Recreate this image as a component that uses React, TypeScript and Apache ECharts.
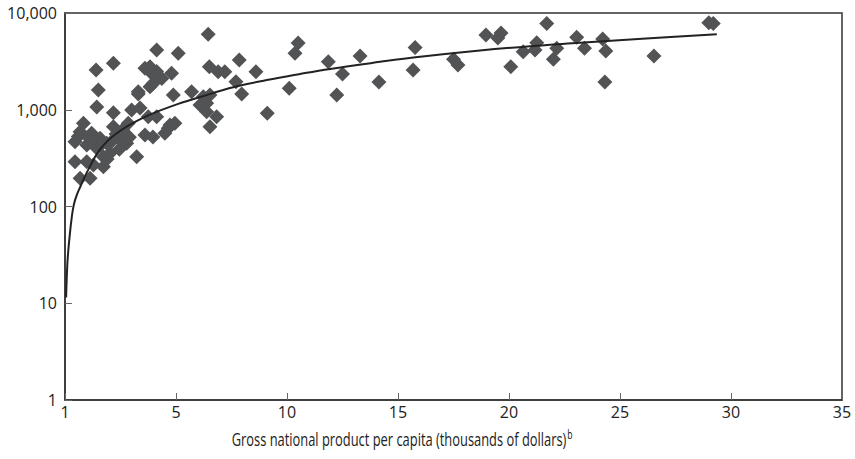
import React, { useEffect, useRef } from "react";
import * as echarts from "echarts";

// Scatter points: [GNP per capita (thousands of dollars, axis units), value]
const lowIncomePoints: number[][] = [
  [0.83, 725], [0.68, 593], [0.45, 467], [0.98, 432], [1.2, 571], [1.58, 507],
  [1.88, 450], [1.43, 399], [2.48, 487], [2.78, 450], [2.03, 355], [1.73, 327],
  [0.45, 290], [0.98, 290], [1.28, 268], [1.73, 258], [3.23, 327], [0.68, 196],
  [1.13, 196], [2.18, 668], [2.85, 725], [3.0, 994], [3.38, 1040], [3.75, 848],
  [3.6, 548], [3.96, 523], [1.43, 1070], [2.18, 932], [3.3, 1455], [1.5, 1600],
  [1.4, 2575], [2.18, 3020], [0.6, 530], [1.05, 520], [1.35, 455], [2.3, 560],
  [2.6, 620], [1.6, 430], [2.1, 470], [1.9, 310], [2.45, 390], [2.9, 520],
];

const middleIncomePoints: number[][] = [
  [4.13, 4150], [5.1, 3830], [6.45, 6030], [3.6, 2680], [3.9, 2390], [3.83, 2780],
  [4.13, 2490], [4.36, 2110], [4.8, 2390], [3.98, 1877], [3.83, 1730], [3.3, 1537],
  [4.88, 1420], [5.7, 1537], [6.5, 2790], [6.9, 2470], [7.2, 2470], [7.85, 3270],
  [7.7, 1950], [6.23, 1365], [6.53, 1420], [6.38, 1166], [6.08, 1120], [6.38, 955],
  [6.83, 848], [6.53, 668], [4.13, 848], [4.95, 725], [4.65, 643], [4.5, 571],
  [4.73, 695], [7.96, 1455], [8.6, 2470], [10.1, 1667], [9.11, 920], [10.5, 4900],
  [10.36, 3830], [11.86, 3140], [12.5, 2340], [12.24, 1420], [13.29, 3590], [14.14, 1940],
];

const highIncomePoints: number[][] = [
  [15.77, 4400], [15.68, 2575], [17.5, 3320], [17.7, 2900], [18.96, 5930],
  [19.5, 5500], [19.64, 6210], [20.08, 2790], [20.64, 3980], [21.17, 4150],
  [21.25, 4930], [21.7, 7800], [22.0, 3320], [22.15, 4310], [23.05, 5610],
  [23.4, 4310], [24.22, 5380], [24.36, 4050], [24.32, 1940], [26.53, 3590],
  [29.0, 7940], [29.2, 7800],
];

// Fitted curve
const trendX: number[] = [0.05, 0.1, 0.15, 0.2, 0.3, 0.4, 0.55, 0.68, 0.98, 1.58, 2.33, 3.53, 4.88, 6.08, 7.58, 9.09, 10.59, 11.94, 14.19, 15.69, 18.69, 20.95, 23.2, 26.0, 29.36];
const trendY: number[] = [11.5, 24, 35.5, 47, 76, 105, 135, 158, 224, 389, 571, 828, 1104, 1352, 1710, 2028, 2344, 2642, 3126, 3467, 4093, 4539, 4920, 5433, 6025];

const xTickValues: number[] = [0, 5, 10, 15, 20, 25, 30, 35];
const xTickLabels: string[] = ["1", "5", "10", "15", "20", "25", "30", "35"];
const yTickLabels: Record<number, string> = { 1: "1", 10: "10", 100: "100", 1000: "1,000", 10000: "10,000" };

const xTitle = "Gross national product per capita (thousands of dollars)";
const xTitleNote = "b";

export default function App() {
  const ref = useRef<HTMLDivElement>(null);
  useEffect(() => {
    if (!ref.current) return;
    const chart = echarts.init(ref.current, null, { renderer: "svg" });
    const pointColor = "#525355";
    const axisColor = "#333333";
    const font = "'Open Sans', sans-serif";
    const allPoints = [...lowIncomePoints, ...middleIncomePoints, ...highIncomePoints];
    const trend = trendX.map((x, i) => [x, trendY[i]]);
    chart.setOption({
      animation: false,
      backgroundColor: "#ffffff",
      grid: {
        left: 65,
        right: 13,
        top: 13,
        bottom: 59,
        show: true,
        borderColor: axisColor,
        borderWidth: 1.5,
        backgroundColor: "transparent",
      },
      xAxis: {
        type: "value",
        min: 0,
        max: 35,
        interval: 5,
        axisLine: { show: true, lineStyle: { color: axisColor, width: 1.5 } },
        axisTick: { show: true, inside: true, length: 7, lineStyle: { color: "#666", width: 1 } },
        splitLine: { show: false },
        axisLabel: {
          margin: 4,
          color: "#222",
          fontFamily: font,
          fontSize: 16,
          formatter: (v: number) => {
            const i = xTickValues.indexOf(v);
            return i >= 0 ? xTickLabels[i] : "";
          },
        },
      },
      yAxis: {
        type: "log",
        logBase: 10,
        min: 1,
        max: 10000,
        axisLine: { show: true, lineStyle: { color: axisColor, width: 1.5 } },
        axisTick: { show: true, inside: true, length: 7, lineStyle: { color: "#666", width: 1 } },
        splitLine: { show: false },
        minorTick: { show: false },
        axisLabel: {
          margin: 8,
          color: "#222",
          fontFamily: font,
          fontSize: 16,
          formatter: (v: number) => yTickLabels[Math.round(v)] ?? String(v),
        },
      },
      graphic: [
        {
          type: "text",
          x: 402,
          y: 439,
          scaleX: 0.716,
          style: {
            text: `{t|${xTitle}}{s|${xTitleNote}}`,
            align: "center",
            verticalAlign: "middle",
            rich: {
              t: { fontFamily: font, fontSize: 18, fill: "#222", lineHeight: 22 },
              s: { fontFamily: font, fontSize: 12, fill: "#222", lineHeight: 22, verticalAlign: "top", padding: [0, 0, 9, 1] },
            },
          },
        },
      ],
      series: [
        {
          type: "scatter",
          data: allPoints,
          symbol: "diamond",
          symbolSize: 15,
          itemStyle: { color: pointColor, opacity: 1 },
          z: 2,
        },
        {
          type: "line",
          data: trend,
          showSymbol: false,
          smooth: 0.4,
          lineStyle: { color: "#222222", width: 2 },
          z: 3,
        },
      ],
    });
    return () => chart.dispose();
  }, []);
  return (
    <div
      ref={ref}
      style={{ position: "fixed", left: 0, top: 0, width: 855, height: 459, background: "#fff" }}
    />
  );
}
